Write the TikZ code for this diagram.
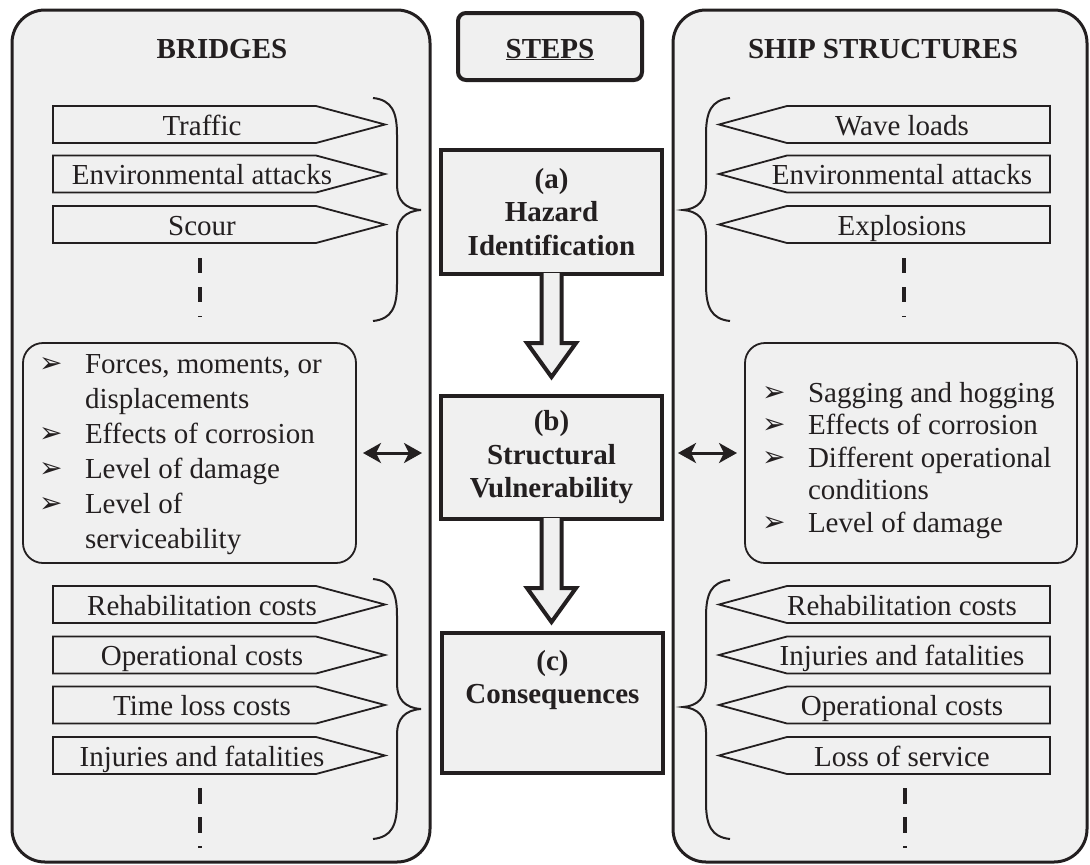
\documentclass[tikz,border=0pt]{standalone}
\usepackage{fontspec}
\setmainfont{Liberation Serif}
\newfontfamily\djv{DejaVu Sans}
\usetikzlibrary{arrows.meta,calc}
\definecolor{ln}{RGB}{35,31,32}
\definecolor{pf}{RGB}{240,240,240}
\newcommand\lsign[3]{%
  \draw[sig] (53,#2-18.5) -- (316,#2-18.5) -- (385,#2) -- (316,#2+18.5) -- (53,#2+18.5) -- cycle;
  \node[sigtext] (#1) at (202,#2+10.5) {#3};}
\newcommand\rsign[3]{%
  \draw[sig] (1050,#2-18.5) -- (787,#2-18.5) -- (719,#2) -- (787,#2+18.5) -- (1050,#2+18.5) -- cycle;
  \node[sigtext] (#1) at (902,#2+10.5) {#3};}
\newcommand\bracetipR[3]{%
  \draw[mybrace] (373,#1) .. controls (392,#1+2) and (397,#1+14) .. (397,#1+37) -- (397,#3-25)
    .. controls (397,#3-10) and (405,#3-1) .. (421,#3)
    .. controls (405,#3+1) and (397,#3+10) .. (397,#3+25) -- (397,#2-37)
    .. controls (397,#2-14) and (392,#2-2) .. (373,#2);}
\newcommand\bracetipL[3]{%
  \draw[mybrace] (730,#1) .. controls (711,#1+2) and (706,#1+14) .. (706,#1+37) -- (706,#3-25)
    .. controls (706,#3-10) and (698,#3-1) .. (683,#3)
    .. controls (698,#3+1) and (706,#3+10) .. (706,#3+25) -- (706,#2-37)
    .. controls (706,#2-14) and (711,#2-2) .. (730,#2);}
\newcommand\bu{\makebox[46pt][l]{\raisebox{1pt}{\djv\fontsize{28}{28}\selectfont ➢}}}
\newcommand\bi{\makebox[46pt]{}}
\begin{document}
\begin{tikzpicture}[x=1pt,y=-1pt,
  every node/.style={inner sep=0pt, outer sep=0pt, text=ln},
  panel/.style={draw=ln, fill=pf, line width=3pt, rounded corners=33pt},
  title/.style={font=\fontsize{29}{33}\selectfont\bfseries, anchor=base},
  stepbox/.style={draw=ln, fill=pf, line width=4pt, minimum width=221pt, align=center,
    font=\fontsize{29}{33.5}\selectfont\bfseries},
  sig/.style={draw=ln, fill=pf, line width=1.8pt, line join=miter},
  sigtext/.style={font=\fontsize{29}{33}\selectfont, anchor=base},
  dots/.style={draw=ln, line width=3.8pt},
  mybrace/.style={draw=ln, line width=2pt},
  listbox/.style={draw=ln, fill=pf, line width=1.8pt, rounded corners=20pt},
  listtext/.style={align=left, anchor=north west},
  blockarrow/.style={draw=ln, fill=pf, line width=4pt, line join=miter},
  dbl/.style={draw=ln, line width=3pt,
    {Stealth[length=18pt,width=20pt,inset=5pt]}-{Stealth[length=18pt,width=20pt,inset=5pt]}}
]
\useasboundingbox (0,0) rectangle (1090,865);

% panels
\node[panel, minimum width=418pt, minimum height=852pt] (lp) at (221,436) {};
\node[panel, minimum width=414pt, minimum height=852pt] (rp) at (880,436) {};
\node[title] (bt) at (222,58) {BRIDGES};
\node[title] (st) at (883,58) {SHIP STRUCTURES};

% steps header
\node[draw=ln, fill=pf, line width=4pt, rounded corners=8pt, minimum width=184pt, minimum height=67pt] (sb) at (550,46.5) {};
\node[title] (stt) at (550,58) {\underline{STEPS}};

% step boxes
\node[stepbox, minimum height=124pt] (haz) at (551.5,212) {(a)\\Hazard\\Identification};
\node[stepbox, minimum height=123pt] (vul) at (551.5,457.5) {(b)\\Structural\\Vulnerability};
\node[stepbox, minimum height=140pt] (con) at (552.5,703) {};
\node[title] (ct1) at (552.5,670) {(c)};
\node[title] (ct2) at (552.5,703) {Consequences};

% block arrows
\foreach \b in {haz,vul}{
  \path[blockarrow] ($(\b.south)+(-10,-1)$) -- ($(\b.south)+(-10,69)$) -- ($(\b.south)+(-24.5,69)$)
    -- ($(\b.south)+(0,103)$) -- ($(\b.south)+(24.5,69)$) -- ($(\b.south)+(10,69)$) -- ($(\b.south)+(10,-1)$);
}

% left hazards
\lsign{l1}{124.5}{Traffic}
\lsign{l2}{174}{Environmental attacks}
\lsign{l3}{224.5}{Scour}
\draw[dots, dash pattern=on 15pt off 14pt] (200,258) -- (200,317);
\bracetipR{98}{321}{210}

% right hazards
\rsign{r1}{124.5}{Wave loads}
\rsign{r2}{174}{Environmental attacks}
\rsign{r3}{224.5}{Explosions}
\draw[dots, dash pattern=on 15pt off 14pt] (904,258) -- (904,317);
\bracetipL{98}{321}{210}

% vulnerability lists
\node[listbox, minimum width=333pt, minimum height=220pt] (lb) at (189.5,453) {};
\node[listtext, font=\fontsize{29}{35}\selectfont] (lt) at (39,355)
  {\bu Forces, moments, or\\\bi displacements\\\bu Effects of corrosion\\\bu Level of damage\\\bu Level of\\\bi serviceability};
\node[listbox, minimum width=332pt, minimum height=220pt] (rb) at (911,453) {};
\node[listtext, font=\fontsize{29}{32.5}\selectfont] (rt) at (762,382)
  {\bu Sagging and hogging\\\bu Effects of corrosion\\\bu Different operational\\\bi conditions\\\bu Level of damage};
\draw[dbl, shorten <=7pt, shorten >=19pt] (lb.east) -- (lb.east -| vul.west);
\draw[dbl, shorten <=16pt, shorten >=8pt] (rb.west -| vul.east) -- (rb.west);

% left consequences
\lsign{l4}{604.5}{Rehabilitation costs}
\lsign{l5}{655}{Operational costs}
\lsign{l6}{705}{Time loss costs}
\lsign{l7}{755.5}{Injuries and fatalities}
\draw[dots, dash pattern=on 16pt off 13pt] (200,788) -- (200,848);
\bracetipR{579}{839}{709}

% right consequences
\rsign{r4}{604.5}{Rehabilitation costs}
\rsign{r5}{655}{Injuries and fatalities}
\rsign{r6}{705}{Operational costs}
\rsign{r7}{755.5}{Loss of service}
\draw[dots, dash pattern=on 16pt off 13pt] (905,788) -- (905,848);
\bracetipL{580}{839}{707}
\end{tikzpicture}
\end{document}
